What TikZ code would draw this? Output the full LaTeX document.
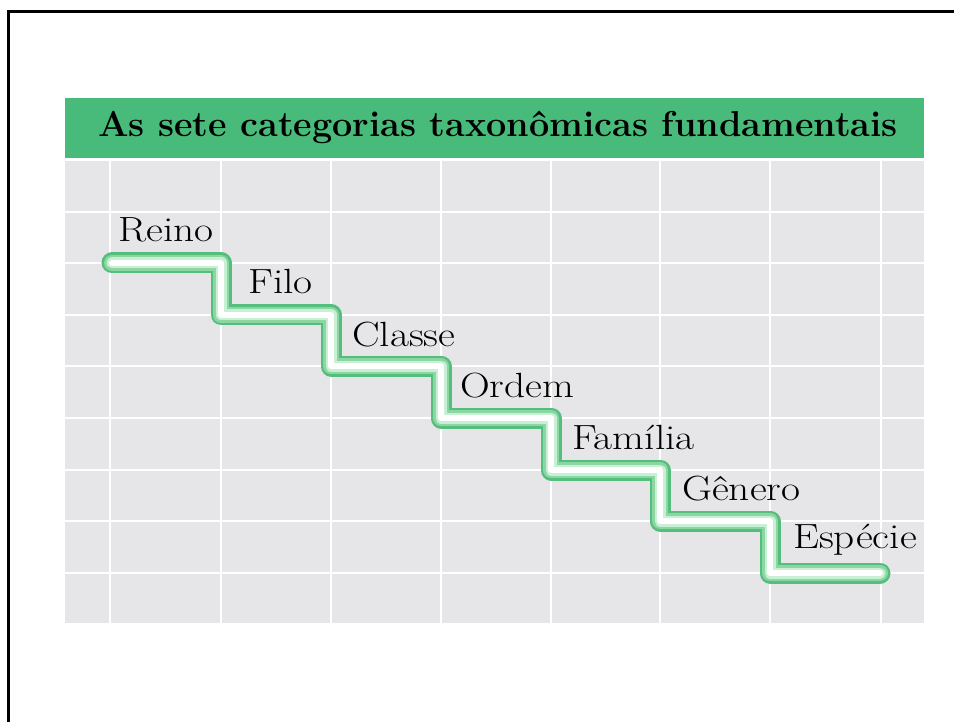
\documentclass[tikz,border=0pt]{standalone}
\usepackage{tikz}
\definecolor{headgreen}{RGB}{72,186,122}
\definecolor{gridgray}{RGB}{230,230,232}
\definecolor{tubegreen}{RGB}{84,190,124}
\definecolor{tubemid}{RGB}{140,214,164}
\definecolor{tubelight}{RGB}{200,240,212}
\begin{document}
\begin{tikzpicture}[x=1pt,y=-1pt,every node/.style={inner sep=0pt,font=\fontsize{35}{40}\selectfont},
  taxon/.style={anchor=base west},gridline/.style={white,line width=2.5pt}]
  \useasboundingbox (0,0) rectangle (954,722);
  \draw[line width=3pt] (8,722) |- (954,12);
  \fill[headgreen] (65,98) rectangle (924,158);
  \fill[gridgray] (65,161) rectangle (924,623);
  \foreach \x in {110,221,331,441,551,660,770,881}
    \draw[gridline] (\x,161) -- (\x,623);
  \foreach \y in {212,263,315,366,418,470,521,573}
    \draw[gridline] (65,\y) -- (924,\y);
  \node[anchor=base] (titulo) at (498,137) {\bfseries\fontsize{36}{40}\selectfont As sete categorias taxonômicas fundamentais};
  \foreach \w/\c in {21/tubegreen,16/tubemid,11/tubelight,6/white}
    \draw[\c,line width=\w pt,line cap=round,line join=round](112,263) -| (221,315) -| (331,366) -| (441,418) -| (551,470) -| (660,521) -| (770,573) -- (880,573);
  \node[taxon] (reino) at (118,242) {\scalebox{1.18}[1]{Reino}};
  \node[taxon] (filo) at (248,294) {\scalebox{1.18}[1]{Filo}};
  \node[taxon] (classe) at (352,346) {\scalebox{1.18}[1]{Classe}};
  \node[taxon] (ordem) at (460,397) {\scalebox{1.18}[1]{Ordem}};
  \node[taxon] (familia) at (572,449) {\scalebox{1.18}[1]{Família}};
  \node[taxon] (genero) at (682,500) {\scalebox{1.18}[1]{Gênero}};
  \node[taxon] (especie) at (793,548) {\scalebox{1.18}[1]{Espécie}};
\end{tikzpicture}
\end{document}
